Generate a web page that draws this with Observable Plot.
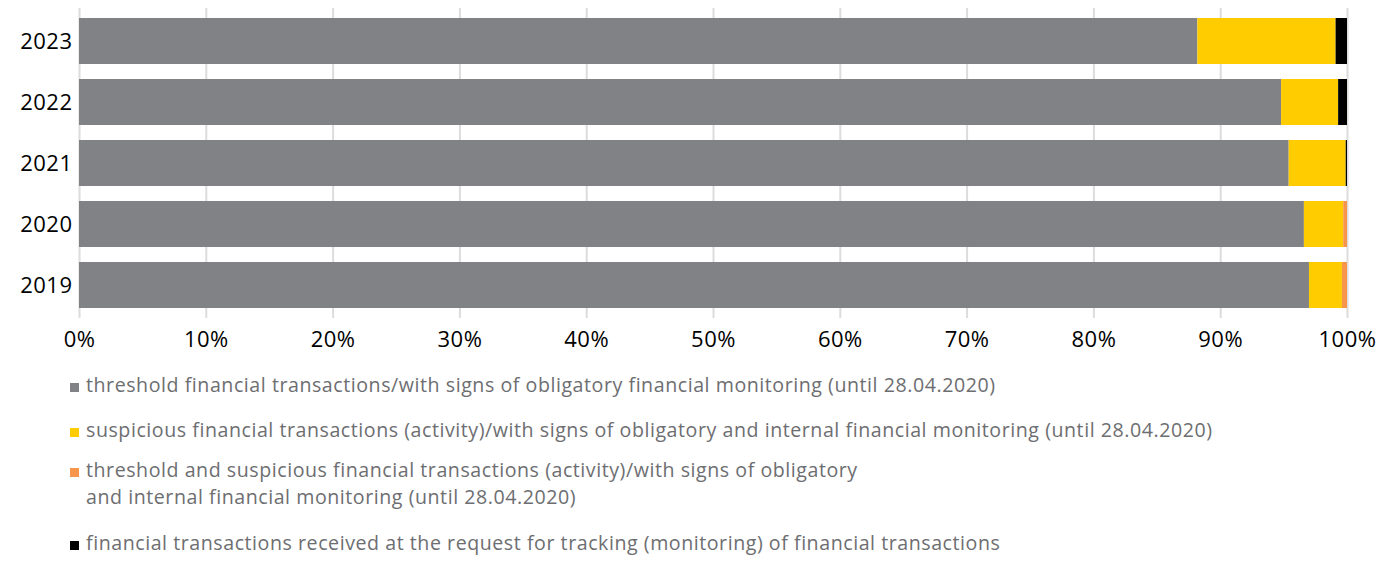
<!DOCTYPE html>
<html>
<head>
<meta charset="utf-8">
<script src="https://cdn.jsdelivr.net/npm/d3@7"></script>
<script src="https://cdn.jsdelivr.net/npm/@observablehq/plot@0.6"></script>
<style>
  body { margin: 0; background: #fff; font-family: "Open Sans", Lato, sans-serif; }
  #legend { margin-left: 70px; margin-top: 9px; color: #6d6e71; font-size: 19.6px; line-height: 27px; letter-spacing: 0.55px; }
  .item { display: flex; align-items: flex-start; }
  .sw { width: 9px; height: 9px; flex: none; margin-top: 12px; margin-right: 7px; }
</style>
</head>
<body>
<div id="chart"></div>
<div id="legend"></div>
<script>
const years = ["2023", "2022", "2021", "2020", "2019"];
const seriesNames = [
  "threshold financial transactions/with signs of obligatory financial monitoring (until 28.04.2020)",
  "suspicious financial transactions (activity)/with signs of obligatory and internal financial monitoring (until 28.04.2020)",
  "threshold and suspicious financial transactions (activity)/with signs of obligatory\nand internal financial monitoring (until 28.04.2020)",
  "financial transactions received at the request for tracking (monitoring) of financial transactions"
];
const colors = ["#818286", "#ffcc00", "#f7964a", "#000000"];
// values per year, in the order of years above
const threshold  = [88.2, 94.8, 95.4, 96.6, 97.0];
const suspicious = [10.9, 4.5, 4.5, 3.1, 2.6];
const both       = [0.0, 0.0, 0.0, 0.3, 0.4];
const requested  = [0.9, 0.7, 0.1, 0.0, 0.0];
const xTicks = [0, 10, 20, 30, 40, 50, 60, 70, 80, 90, 100];

const seriesValues = [threshold, suspicious, both, requested];
const data = [];
years.forEach((y, i) => {
  seriesValues.forEach((vals, s) => {
    data.push({year: y, series: seriesNames[s], order: s, value: vals[i]});
  });
});

const chart = Plot.plot({
  width: 1397,
  height: 362,
  marginLeft: 79,
  marginRight: 50,
  marginTop: 8,
  marginBottom: 44,
  style: {fontFamily: "'Open Sans', Lato, sans-serif", fontSize: "22px", color: "#000", background: "#fff", letterSpacing: "0.5px"},
  x: {domain: [0, 100], ticks: xTicks, tickFormat: d => d + "%", tickSize: 0, tickPadding: 13, label: null},
  y: {domain: years, paddingInner: 0.25, paddingOuter: 0.15, tickSize: 0, tickPadding: 7, label: null},
  color: {domain: seriesNames, range: colors},
  marks: [
    Plot.ruleX(xTicks, {stroke: "#dcdcdc", strokeWidth: 2}),
    Plot.barX(data, Plot.stackX({x: "value", y: "year", fill: "series", order: "order", inset: 0})),
  ]
});
document.getElementById("chart").appendChild(chart);

const gaps = [18, 13, 19, 0];
const legend = document.getElementById("legend");
seriesNames.forEach((name, i) => {
  const item = document.createElement("div");
  item.className = "item";
  item.style.marginBottom = gaps[i] + "px";
  const sw = document.createElement("div");
  sw.className = "sw";
  sw.style.background = colors[i];
  const txt = document.createElement("div");
  txt.innerHTML = name.split("\n").map(s => s.replace(/&/g, "&amp;").replace(/</g, "&lt;")).join("<br>");
  item.appendChild(sw);
  item.appendChild(txt);
  legend.appendChild(item);
});
</script>
</body>
</html>
